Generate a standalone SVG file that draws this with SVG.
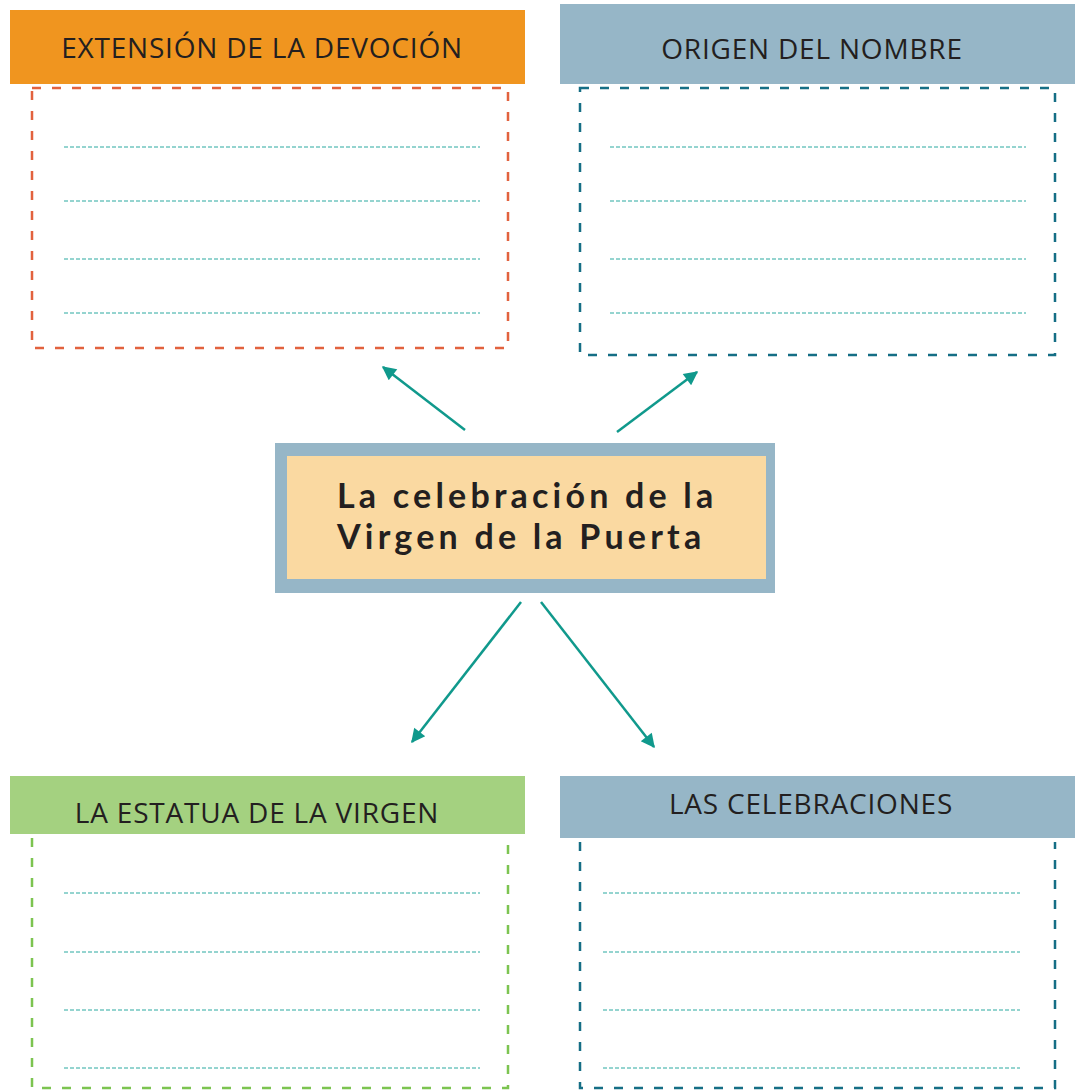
<svg xmlns="http://www.w3.org/2000/svg" width="1082" height="1090" viewBox="0 0 1082 1090">
<style>
.hdr{font-family:"Open Sans","Liberation Sans",sans-serif;font-size:28px;fill:#231f20;text-anchor:middle;letter-spacing:0.8px}
.ttl{font-family:"Lato","Open Sans",sans-serif;font-weight:bold;font-size:34px;fill:#231f20;letter-spacing:4.2px}
.box{fill:none;stroke-width:2.5;stroke-dasharray:9 11}
.wl{stroke:#2aa9a0;stroke-width:1;stroke-dasharray:4 2;fill:none}
.conn{stroke:#10998c;stroke-width:2.5;fill:none}
</style>
<defs>
<marker id="ah" viewBox="0 0 10 10" refX="9" refY="5" markerWidth="16" markerHeight="14" markerUnits="userSpaceOnUse" orient="auto">
<path d="M0,0 L10,5 L0,10 z" fill="#10998c"/>
</marker>
</defs>
<rect width="1082" height="1090" fill="#ffffff"/>

<g id="node-extension">
<rect x="10" y="10" width="515" height="74" fill="#f0951f"/>
<text class="hdr" x="262" y="58">EXTENSIÓN DE LA DEVOCIÓN</text>
<rect class="box" x="32" y="88" width="476" height="260" stroke="#e2623e"/>
<line class="wl" x1="64" y1="147" x2="480" y2="147"/>
<line class="wl" x1="64" y1="201" x2="480" y2="201"/>
<line class="wl" x1="64" y1="259" x2="480" y2="259"/>
<line class="wl" x1="64" y1="313" x2="480" y2="313"/>
</g>

<g id="node-origen">
<rect x="560" y="4" width="515" height="80" fill="#96b6c7"/>
<text class="hdr" x="812" y="59">ORIGEN DEL NOMBRE</text>
<rect class="box" x="580" y="88" width="475" height="267" stroke="#156e85"/>
<line class="wl" x1="610" y1="147" x2="1026" y2="147"/>
<line class="wl" x1="610" y1="201" x2="1026" y2="201"/>
<line class="wl" x1="610" y1="259" x2="1026" y2="259"/>
<line class="wl" x1="610" y1="313" x2="1026" y2="313"/>
</g>

<g id="node-center">
<rect x="275" y="443" width="500" height="150" fill="#96b6c7"/>
<rect x="287" y="456" width="479" height="123" fill="#fad9a1"/>
<text class="ttl" x="337" y="508">La celebración de la</text>
<text class="ttl" x="337" y="549">Virgen de la Puerta</text>
</g>

<g id="node-estatua">
<rect x="10" y="776" width="515" height="58" fill="#a4d180"/>
<text class="hdr" x="257" y="823">LA ESTATUA DE LA VIRGEN</text>
<path class="box" d="M32,838 V1088 H508 V838" stroke="#7cc450"/>
<line class="wl" x1="64" y1="893" x2="480" y2="893"/>
<line class="wl" x1="64" y1="952" x2="480" y2="952"/>
<line class="wl" x1="64" y1="1010" x2="480" y2="1010"/>
<line class="wl" x1="64" y1="1068" x2="480" y2="1068"/>
</g>

<g id="node-celebraciones">
<rect x="560" y="776" width="515" height="62" fill="#96b6c7"/>
<text class="hdr" x="811" y="814">LAS CELEBRACIONES</text>
<path class="box" d="M580,842 V1088 H1055 V842" stroke="#156e85"/>
<line class="wl" x1="603" y1="893" x2="1020" y2="893"/>
<line class="wl" x1="603" y1="952" x2="1020" y2="952"/>
<line class="wl" x1="603" y1="1010" x2="1020" y2="1010"/>
<line class="wl" x1="603" y1="1068" x2="1020" y2="1068"/>
</g>

<g id="connectors">
<line class="conn" x1="465" y1="430" x2="383" y2="367" marker-end="url(#ah)"/>
<line class="conn" x1="617" y1="432" x2="697" y2="372" marker-end="url(#ah)"/>
<line class="conn" x1="521" y1="602" x2="412" y2="742" marker-end="url(#ah)"/>
<line class="conn" x1="541" y1="602" x2="654" y2="747" marker-end="url(#ah)"/>
</g>
</svg>
